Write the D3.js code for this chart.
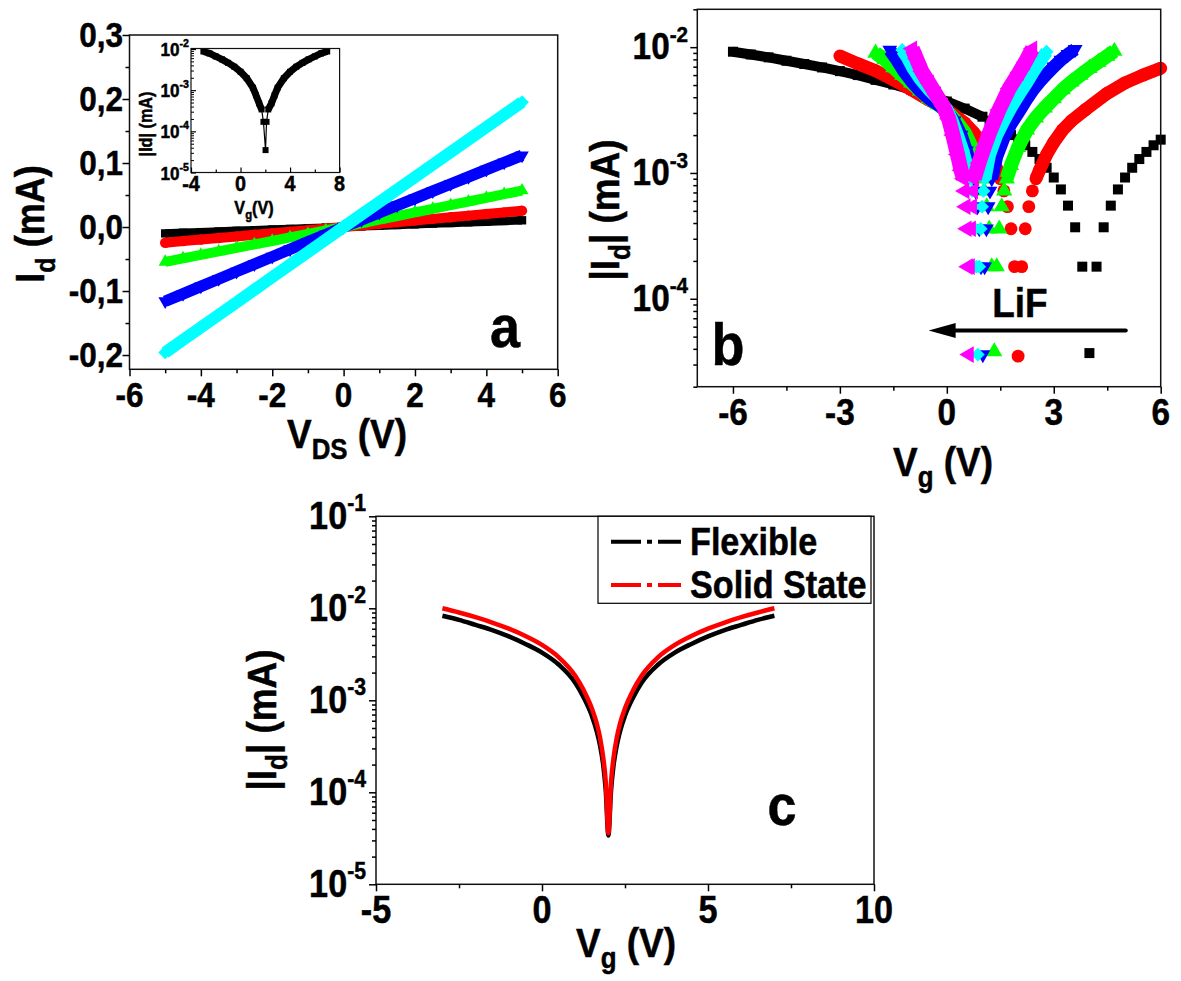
<!DOCTYPE html>
<html><head><meta charset="utf-8">
<script src="https://cdn.jsdelivr.net/npm/d3@7"></script>
<style>
body{margin:0;background:#fff}
svg{display:block}
text{font-family:"Liberation Sans",Arial,Helvetica,sans-serif;font-weight:bold;fill:#000}
</style>
</head><body>
<svg id="fig" width="1181" height="981"></svg>
<script>
// ================= DATA =================
// Panel a : Id vs VDS
const aVds   = [-5,-4.5,-4,-3.5,-3,-2.5,-2,-1.5,-1,-0.5,0,0.5,1,1.5,2,2.5,3,3.5,4,4.5,5];
const aBlack = [-0.0100,-0.0090,-0.0080,-0.0070,-0.0060,-0.0050,-0.0040,-0.0030,-0.0020,-0.0010,0,0.0011,0.0021,0.0032,0.0042,0.0053,0.0063,0.0074,0.0084,0.0095,0.0105];
const aRed   = [-0.0245,-0.0220,-0.0196,-0.0171,-0.0147,-0.0122,-0.0098,-0.0073,-0.0049,-0.0024,0,0.0025,0.0051,0.0076,0.0102,0.0127,0.0153,0.0178,0.0204,0.0229,0.0255];
const aGreen = [-0.0545,-0.0490,-0.0436,-0.0381,-0.0327,-0.0272,-0.0218,-0.0163,-0.0109,-0.0054,0,0.0057,0.0114,0.0171,0.0228,0.0285,0.0342,0.0399,0.0456,0.0513,0.0570];
const aBlue  = [-0.1160,-0.1044,-0.0928,-0.0812,-0.0696,-0.0580,-0.0464,-0.0348,-0.0232,-0.0116,0,0.0112,0.0224,0.0336,0.0448,0.0560,0.0672,0.0784,0.0896,0.1008,0.1120];
const aCyan  = [-0.1960,-0.1764,-0.1568,-0.1372,-0.1176,-0.0980,-0.0784,-0.0588,-0.0392,-0.0196,0,0.0195,0.0390,0.0585,0.0780,0.0975,0.1170,0.1365,0.1560,0.1755,0.1950];
const aXTicks = [-6,-4,-2,0,2,4,6];
const aXLabels = ["-6","-4","-2","0","2","4","6"];
const aXMinor = [-5,-3,-1,1,3,5];
const aYTicks = [-0.2,-0.1,0,0.1,0.2,0.3];
const aYLabels = ["-0,2","-0,1","0,0","0,1","0,2","0,3"];
const aYMinor = [-0.15,-0.05,0.05,0.15,0.25];

// Inset of panel a : |Id| vs Vg
const insVg = [-3,-2.5,-2,-1.5,-1,-0.5,0,0.5,1,1.25,1.5,1.7,1.85,2.02,2.1,2.24,2.5,2.75,3,3.5,4,4.5,5,5.5,6,6.5,7];
const insId = [8.7e-3,7.8e-3,6.6e-3,5.6e-3,4.6e-3,3.7e-3,2.8e-3,1.95e-3,1.15e-3,7.5e-4,4.8e-4,3.4e-4,1.7e-4,3.5e-5,1.7e-4,3.4e-4,4.8e-4,7.5e-4,1.15e-3,1.95e-3,2.8e-3,3.7e-3,4.6e-3,5.6e-3,6.6e-3,7.8e-3,8.7e-3];
const insXTicks = [-4,0,4,8];
const insXLabels = ["-4","0","4","8"];
const insXMinor = [-2,2,6];
const insYTicks = [1e-5,1e-4,1e-3,1e-2];
const insYExp = ["-5","-4","-3","-2"];

// Panel b : |Id| vs Vg for increasing LiF
const bBlackVg = [-6,-5.5,-5,-4.5,-4,-3.5,-3,-2.5,-2,-1.5,-1,-0.5,0,0.5,1.0,1.2,1.4,1.6,1.8,2.0,2.2,2.4,2.6,2.8,3.0,3.2,3.4,3.6,3.8,4.0,4.2,4.4,4.6,4.8,5.0,5.2,5.4,5.6,5.8,6.0];
const bBlackId = [9.2e-3,8.75e-3,8.3e-3,7.8e-3,7.35e-3,6.9e-3,6.45e-3,6.0e-3,5.5e-3,5.05e-3,4.6e-3,4.15e-3,3.7e-3,3.25e-3,2.8e-3,2.6e-3,2.45e-3,2.2e-3,2.0e-3,1.85e-3,1.66e-3,1.47e-3,1.29e-3,1.1e-3,9.2e-4,7.4e-4,5.5e-4,3.7e-4,1.8e-4,3.7e-5,1.8e-4,3.7e-4,5.5e-4,7.4e-4,9.2e-4,1.1e-3,1.29e-3,1.47e-3,1.66e-3,1.84e-3];
const bRedVg = [-3,-2.5,-2,-1.5,-1,-0.5,0,0.5,0.75,1.0,1.2,1.4,1.5,1.6,1.7,1.8,1.9,2.0,2.1,2.2,2.3,2.4,2.5,2.6,2.8,3.0,3.25,3.5,3.9,4.5,5.0,5.5,6.0];
const bRedId = [8.5e-3,7.4e-3,6.5e-3,5.5e-3,4.6e-3,3.8e-3,3.2e-3,2.5e-3,2.1e-3,1.7e-3,1.4e-3,1.08e-3,9e-4,7.2e-4,5.4e-4,3.6e-4,1.8e-4,3.5e-5,1.8e-4,3.6e-4,5.4e-4,7.2e-4,9e-4,1.05e-3,1.4e-3,1.75e-3,2.2e-3,2.6e-3,3.2e-3,4.3e-3,5.2e-3,6.0e-3,6.8e-3];
const bGreenVg = [-2.0,-1.75,-1.5,-1.25,-1.0,-0.75,-0.5,-0.25,0,0.25,0.5,0.75,0.9,0.98,1.05,1.12,1.19,1.26,1.33,1.40,1.47,1.54,1.61,1.68,1.8,2.0,2.25,2.5,2.75,3.0,3.25,3.5,3.75,4.0,4.25,4.5,4.7];
const bGreenId = [9.0e-3,8.0e-3,6.9e-3,6.0e-3,5.2e-3,4.5e-3,3.9e-3,3.5e-3,3.1e-3,2.6e-3,2.1e-3,1.5e-3,1.1e-3,9e-4,7.2e-4,5.4e-4,3.6e-4,1.8e-4,3.8e-5,1.8e-4,3.6e-4,5.4e-4,7.2e-4,9e-4,1.15e-3,1.6e-3,2.2e-3,2.75e-3,3.3e-3,3.9e-3,4.6e-3,5.3e-3,6.0e-3,6.8e-3,7.6e-3,8.5e-3,9.3e-3];
const bBlueVg = [-1.6,-1.4,-1.2,-1.0,-0.75,-0.5,-0.25,0,0.2,0.4,0.55,0.66,0.76,0.81,0.86,0.91,0.96,1.01,1.06,1.11,1.16,1.21,1.26,1.4,1.6,1.8,2.0,2.2,2.4,2.6,2.8,3.0,3.2,3.4,3.6];
const bBlueId = [9.5e-3,7.9e-3,6.4e-3,5.4e-3,4.5e-3,3.9e-3,3.5e-3,3.1e-3,2.6e-3,2.0e-3,1.5e-3,1.15e-3,9e-4,7.2e-4,5.4e-4,3.6e-4,1.8e-4,3.6e-5,1.8e-4,3.6e-4,5.4e-4,7.2e-4,9e-4,1.35e-3,1.9e-3,2.45e-3,3.0e-3,3.7e-3,4.5e-3,5.3e-3,6.1e-3,7.0e-3,7.9e-3,8.8e-3,9.6e-3];
const bCyanVg = [-1.25,-1.1,-0.95,-0.75,-0.5,-0.25,0,0.15,0.3,0.45,0.56,0.67,0.71,0.75,0.79,0.83,0.87,0.91,0.95,0.99,1.03,1.07,1.2,1.4,1.6,1.8,2.0,2.2,2.4,2.6,2.8];
const bCyanId = [9.5e-3,8.2e-3,6.8e-3,5.6e-3,4.6e-3,3.9e-3,3.2e-3,2.6e-3,2.0e-3,1.5e-3,1.15e-3,9e-4,7.2e-4,5.4e-4,3.6e-4,1.8e-4,3.6e-5,1.8e-4,3.6e-4,5.4e-4,7.2e-4,9e-4,1.4e-3,2.0e-3,2.6e-3,3.3e-3,4.1e-3,5.0e-3,6.2e-3,7.6e-3,9.2e-3];
const bMagentaVg = [-0.97,-0.85,-0.7,-0.5,-0.3,-0.1,0.05,0.17,0.3,0.4,0.47,0.50,0.53,0.56,0.59,0.62,0.65,0.68,0.71,0.74,0.77,0.9,1.05,1.2,1.46,1.75,2.03,2.2,2.4];
const bMagentaId = [9.7e-3,8.1e-3,6.4e-3,5.2e-3,4.2e-3,3.4e-3,2.7e-3,2.0e-3,1.4e-3,1.05e-3,9e-4,7.2e-4,5.4e-4,3.6e-4,1.8e-4,3.6e-5,1.8e-4,3.6e-4,5.4e-4,7.2e-4,9e-4,1.2e-3,1.6e-3,2.1e-3,3.16e-3,4.7e-3,6.3e-3,7.6e-3,9.7e-3];
const bXTicks = [-6,-3,0,3,6];
const bXLabels = ["-6","-3","0","3","6"];
const bXMinor = [-4.5,-1.5,1.5,4.5];
const bYTicks = [1e-4,1e-3,1e-2];
const bYExp = ["-4","-3","-2"];
const bArrowVg = [5.02,-0.51];   // arrow tail -> head
const bArrowId = [5.6e-5,5.6e-5];
const bLiF = {vg:2.05, id:7.1e-5, text:"LiF"};

// Panel c : Flexible vs Solid State
const cVg = [-3,-2.5,-2,-1.5,-1,-0.5,0,0.5,1,1.25,1.5,1.65,1.75,1.85,1.92,2,2.08,2.15,2.25,2.35,2.5,2.75,3,3.5,4,4.5,5,5.5,6,6.5,7];
const cSolidState = [1.0e-2,9.0e-3,8.0e-3,7.0e-3,6.0e-3,5.0e-3,4.0e-3,2.95e-3,1.85e-3,1.3e-3,8.2e-4,5.6e-4,3.9e-4,2.3e-4,1.3e-4,3.6e-5,1.3e-4,2.3e-4,3.9e-4,5.6e-4,8.2e-4,1.3e-3,1.85e-3,2.95e-3,4.0e-3,5.0e-3,6.0e-3,7.0e-3,8.0e-3,9.0e-3,1.0e-2];
const cFlexible = [8.3e-3,7.5e-3,6.6e-3,5.8e-3,4.95e-3,4.1e-3,3.3e-3,2.45e-3,1.55e-3,1.08e-3,6.8e-4,4.6e-4,3.2e-4,1.9e-4,1.05e-4,3.4e-5,1.05e-4,1.9e-4,3.2e-4,4.6e-4,6.8e-4,1.08e-3,1.55e-3,2.45e-3,3.3e-3,4.1e-3,4.95e-3,5.8e-3,6.6e-3,7.5e-3,8.3e-3];
const cLegend = ["Flexible","Solid State"];
const cXTicks = [-5,0,5,10];
const cXLabels = ["-5","0","5","10"];
const cXMinor = [-2.5,2.5,7.5];
const cYTicks = [1e-5,1e-4,1e-3,1e-2,1e-1];
const cYExp = ["-5","-4","-3","-2","-1"];

// ================= DRAWING =================
const svg = d3.select("#fig");
const SQ = 0.9;

function label(g, x, y, parts, size, anchor, rotate, sq) {
  const t = g.append("text")
    .attr("transform", `translate(${x},${y}) rotate(${rotate||0}) scale(${sq||SQ},1)`)
    .attr("text-anchor", anchor || "middle")
    .attr("font-size", size)
    .attr("stroke", "#000").attr("stroke-width", 0.5);
  let shift = 0;
  parts.forEach(p => {
    let target = 0, fs = size;
    if (p.sub) { target = size * 0.28; fs = size * 0.7; }
    if (p.sup) { target = -size * 0.47; fs = size * 0.62; }
    t.append("tspan").text(p.t).attr("font-size", fs).attr("dy", target - shift);
    shift = target;
  });
  return t;
}

function logMinor(domain) {
  const out = [];
  const k0 = Math.floor(Math.log10(domain[0])), k1 = Math.ceil(Math.log10(domain[1]));
  for (let k = k0; k <= k1; k++) for (let m = 2; m <= 9; m++) {
    const v = m * Math.pow(10, k);
    if (v >= domain[0] && v <= domain[1]) out.push(v);
  }
  return out;
}

function ticks(g, axisFn, scale, values, len, tx, ty, sw) {
  const ax = g.append("g").attr("transform", `translate(${tx},${ty})`)
    .call(axisFn(scale).tickValues(values).tickSizeInner(len).tickSizeOuter(0).tickFormat(""));
  ax.select(".domain").remove();
  ax.selectAll("line").attr("stroke", "#000").attr("stroke-width", sw || 1.5);
}

function frame(g, x, y, sw) {
  const [x0, x1] = x.range(), [y1, y0] = y.range();
  g.append("rect").attr("x", x0).attr("y", y0).attr("width", x1 - x0).attr("height", y1 - y0)
    .attr("fill", "none").attr("stroke", "#111").attr("stroke-width", sw || 1.5);
}

function series(g, x, y, vs, is, st) {
  const pts = vs.map((v, k) => ({v: v, i: is[k]}));
  if (st.band) {
    g.append("path").datum(pts)
      .attr("d", d3.line().defined(d => d.i >= st.bandMin).x(d => x(d.v)).y(d => y(d.i)))
      .attr("fill", "none").attr("stroke", st.color).attr("stroke-width", st.band)
      .attr("stroke-linejoin", "round");
  }
  if (st.thin) {
    g.append("path").datum(pts)
      .attr("d", d3.line().x(d => x(d.v)).y(d => y(d.i)))
      .attr("fill", "none").attr("stroke", st.color).attr("stroke-width", st.thin);
  }
  const sym = d3.symbol().type(st.type).size(st.size);
  g.append("g").selectAll("path").data(pts).join("path")
    .attr("transform", d => `translate(${x(d.v)},${y(d.i)}) rotate(${st.rot || 0})`)
    .attr("d", sym).attr("fill", st.color);
}

const SYM = {
  square: {type: d3.symbolSquare, rot: 0},
  circle: {type: d3.symbolCircle, rot: 0},
  up:     {type: d3.symbolTriangle, rot: 0},
  down:   {type: d3.symbolTriangle, rot: 180},
  diamond:{type: d3.symbolSquare, rot: 45},
  left:   {type: d3.symbolTriangle, rot: -90}
};

// ---------- Panel a ----------
{
  const g = svg.append("g");
  const x = d3.scaleLinear().domain([-6, 6]).range([129.5, 557.7]);
  const y = d3.scaleLinear().domain([-0.2223, 0.3]).range([369.3, 35]);
  const defs = [
    [aBlack, "#000000", "square", 70, 8.5],
    [aRed, "#ff0000", "circle", 85, 10],
    [aGreen, "#00ff00", "up", 75, 10],
    [aBlue, "#0000ff", "down", 80, 11.5],
    [aCyan, "#00ffff", "diamond", 95, 12]
  ];
  defs.forEach(d => series(g, x, y, aVds, d[0], {color: d[1], type: SYM[d[2]].type, rot: SYM[d[2]].rot, size: d[3], band: d[4], bandMin: -Infinity}));
  frame(g, x, y);
  ticks(g, d3.axisBottom, x, aXTicks, 7, 0, 369.3);
  ticks(g, d3.axisBottom, x, aXMinor, 4, 0, 369.3);
  ticks(g, d3.axisLeft, y, aYTicks, 7, 129.5, 0);
  ticks(g, d3.axisLeft, y, aYMinor, 4, 129.5, 0);
  aXTicks.forEach((v, k) => label(g, x(v), 407, [{t: aXLabels[k]}], 35, "middle"));
  aYTicks.forEach((v, k) => label(g, 123, y(v) + 12, [{t: aYLabels[k]}], 35, "end"));
  label(g, 347, 448, [{t: "V"}, {t: "DS", sub: true}, {t: " (V)"}], 41, "middle");
  label(g, 44, 224, [{t: "I"}, {t: "d", sub: true}, {t: " (mA)"}], 40, "middle", -90);
  label(g, 505, 347, [{t: "a"}], 60, "middle");

  // inset
  const gi = svg.append("g");
  const xi = d3.scaleLinear().domain([-4, 8]).range([191, 339.6]);
  const yi = d3.scaleLog().domain([1e-5, 1e-2]).range([172.5, 49]);
  gi.append("rect").attr("x", 191).attr("y", 48.5).attr("width", 148.6).attr("height", 124).attr("fill", "#fff");
  series(gi, xi, yi, insVg, insId, {color: "#000", type: d3.symbolSquare, size: 36, band: 7, bandMin: 3e-4, thin: 1.2});
  gi.append("rect").attr("x", 191).attr("y", 48.5).attr("width", 148.6).attr("height", 124)
    .attr("fill", "none").attr("stroke", "#111").attr("stroke-width", 1.2);
  ticks(gi, d3.axisBottom, xi, insXTicks, -5, 0, 172.5, 1.2);
  ticks(gi, d3.axisBottom, xi, insXMinor, -3, 0, 172.5, 1.2);
  ticks(gi, d3.axisLeft, yi, insYTicks, -5, 191, 0, 1.2);
  ticks(gi, d3.axisLeft, yi, logMinor([1e-5, 1e-2]), -3, 191, 0, 1);
  insXTicks.forEach((v, k) => label(gi, xi(v), 191, [{t: insXLabels[k]}], 22, "middle"));
  insYTicks.forEach((v, k) => label(gi, 189, yi(v) + 7, [{t: "10"}, {t: insYExp[k], sup: true}], 19, "end"));
  label(gi, 254, 214, [{t: "V"}, {t: "g", sub: true}, {t: "(V)"}], 18, "middle");
  label(gi, 152, 124, [{t: "|Id| (mA)"}], 18, "middle", -90);
}

// ---------- Panel b ----------
{
  const g = svg.append("g");
  const x = d3.scaleLinear().domain([-7, 6]).range([697.3, 1160.7]);
  const y = d3.scaleLog().domain([2e-5, 2e-2]).range([386.7, 9.3]);
  const defs = [
    [bBlackVg, bBlackId, "#000000", "square", 100, 10, 2.7e-3],
    [bRedVg, bRedId, "#ff0000", "circle", 130, 13, 8.5e-4],
    [bGreenVg, bGreenId, "#00ff00", "up", 115, 14, 8.5e-4],
    [bBlueVg, bBlueId, "#0000ff", "down", 95, 13, 8.5e-4],
    [bCyanVg, bCyanId, "#00ffff", "diamond", 95, 13, 8.5e-4],
    [bMagentaVg, bMagentaId, "#ff00ff", "left", 120, 15, 8.5e-4]
  ];
  defs.forEach(d => series(g, x, y, d[0], d[1], {color: d[2], type: SYM[d[3]].type, rot: SYM[d[3]].rot, size: d[4], band: d[5], bandMin: d[6]}));
  frame(g, x, y);
  ticks(g, d3.axisBottom, x, bXTicks, 7, 0, 386.7);
  ticks(g, d3.axisBottom, x, bXMinor, 4, 0, 386.7);
  ticks(g, d3.axisLeft, y, bYTicks, 7, 697.3, 0);
  ticks(g, d3.axisLeft, y, logMinor([2e-5, 2e-2]), 4, 697.3, 0);
  bXTicks.forEach((v, k) => label(g, x(v), 425, [{t: bXLabels[k]}], 37, "middle"));
  bYTicks.forEach((v, k) => label(g, 688, y(v) + 12, [{t: "10"}, {t: bYExp[k], sup: true}], 37, "end"));
  label(g, 943, 476, [{t: "V"}, {t: "g", sub: true}, {t: " (V)"}], 41, "middle");
  label(g, 619, 210, [{t: "|I"}, {t: "d", sub: true}, {t: "| (mA)"}], 41, "middle", -90);
  label(g, 728, 365, [{t: "b"}], 60, "middle");
  // arrow + LiF
  const ax0 = x(bArrowVg[0]), ax1 = x(bArrowVg[1]), ay = y(bArrowId[0]);
  g.append("line").attr("x1", ax0).attr("x2", ax1 + 20).attr("y1", ay).attr("y2", ay)
    .attr("stroke", "#000").attr("stroke-width", 4).attr("stroke-linecap", "round");
  g.append("path").attr("d", d3.line()([[ax1, ay], [ax1 + 27, ay - 7.5], [ax1 + 27, ay + 7.5]]) + "Z").attr("fill", "#000");
  label(g, x(bLiF.vg), y(bLiF.id), [{t: bLiF.text}], 41, "middle");
}

// ---------- Panel c ----------
{
  const g = svg.append("g");
  const x = d3.scaleLinear().domain([-5, 10]).range([376, 874]);
  const y = d3.scaleLog().domain([1e-5, 1e-1]).range([884.3, 516.3]);
  const line = d3.line().x((d, k) => x(cVg[k])).y(d => y(d)).curve(d3.curveMonotoneX);
  g.append("path").datum(cFlexible).attr("d", line).attr("fill", "none").attr("stroke", "#000").attr("stroke-width", 4.5);
  g.append("path").datum(cSolidState).attr("d", line).attr("fill", "none").attr("stroke", "#ff0000").attr("stroke-width", 4.5);
  frame(g, x, y);
  ticks(g, d3.axisBottom, x, cXTicks, 7, 0, 884.3);
  ticks(g, d3.axisBottom, x, cXMinor, 4, 0, 884.3);
  ticks(g, d3.axisLeft, y, cYTicks, 7, 376, 0);
  ticks(g, d3.axisLeft, y, logMinor([1e-5, 1e-1]), 4, 376, 0);
  cXTicks.forEach((v, k) => label(g, x(v), 923, [{t: cXLabels[k]}], 38, "middle"));
  cYTicks.forEach((v, k) => label(g, 366, y(v) + 13, [{t: "10"}, {t: cYExp[k], sup: true}], 38, "end"));
  label(g, 626, 957, [{t: "V"}, {t: "g", sub: true}, {t: " (V)"}], 41, "middle");
  label(g, 276, 720, [{t: "|I"}, {t: "d", sub: true}, {t: "| (mA)"}], 41, "middle", -90);
  label(g, 782, 825, [{t: "c"}], 58, "middle");
  // legend
  g.append("rect").attr("x", 598).attr("y", 516.3).attr("width", 273).attr("height", 87)
    .attr("fill", "#fff").attr("stroke", "#000").attr("stroke-width", 1.2);
  const colors = ["#000000", "#ff0000"];
  [541.7, 585].forEach((ly, k) => {
    g.append("line").attr("x1", 611).attr("x2", 681).attr("y1", ly).attr("y2", ly)
      .attr("stroke", colors[k]).attr("stroke-width", 4).attr("stroke-dasharray", "30 6 5 6 23");
    label(g, 690, ly + 13, [{t: cLegend[k]}], 38, "start");
  });
}
</script>
</body></html>
